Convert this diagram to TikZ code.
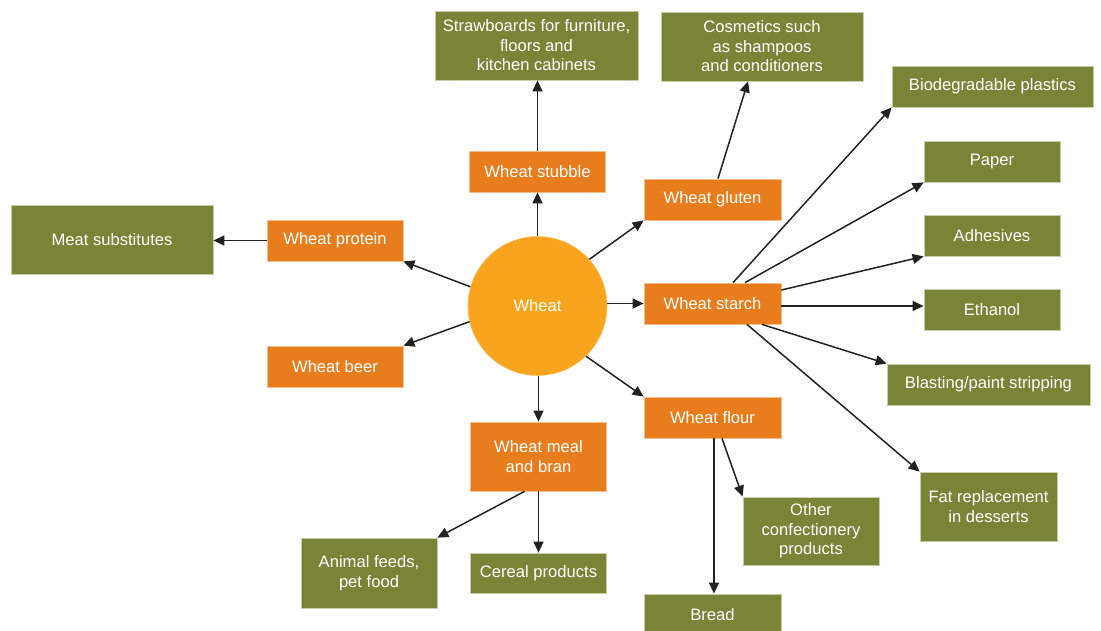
\documentclass[tikz,border=0pt]{standalone}
\usepackage{fontspec}
\setmainfont{Liberation Sans}
\usetikzlibrary{arrows.meta,calc}
\definecolor{gfill}{HTML}{7A8436}
\definecolor{gedge}{HTML}{C9CFA6}
\definecolor{ofill}{HTML}{E87D1E}
\definecolor{oedge}{HTML}{F4BE8C}
\definecolor{cfill}{HTML}{F8A51D}
\definecolor{lcol}{HTML}{222222}
\begin{document}
\begin{tikzpicture}[x=1pt,y=-1pt,
  base/.style={rectangle,inner sep=0pt,align=center,text=white,line width=0.8pt,
    font=\fontsize{16.6}{19.5}\selectfont},
  gbox/.style={base,fill=gfill,draw=gedge},
  obox/.style={base,fill=ofill,draw=oedge},
  arr/.style={draw=lcol,line width=1.5pt,-{Triangle[length=11pt,width=10pt]}}]
\useasboundingbox (0,0) rectangle (1101,630);
% centre
\node[circle,fill=cfill,draw=cfill!70!white,line width=0.6pt,minimum size=139pt,inner sep=0pt,
  text=white,font=\fontsize{16.6}{19.5}\selectfont] (wheat) at (537.5,306) {Wheat};
% orange boxes
\node[obox,minimum width=136,minimum height=41] (stubble) at (537.5,171.5) {Wheat stubble};
\node[obox,minimum width=137,minimum height=41] (gluten) at (712.5,199.5) {Wheat gluten};
\node[obox,minimum width=137,minimum height=41] (starch) at (712.5,303.5) {Wheat starch};
\node[obox,minimum width=137,minimum height=41] (flour) at (712.5,417.5) {Wheat flour};
\node[obox,minimum width=136,minimum height=41] (protein) at (335,240.5) {Wheat protein};
\node[obox,minimum width=136,minimum height=41] (beer) at (335,366.5) {Wheat beer};
\node[obox,minimum width=136,minimum height=69] (meal) at (538.5,456.5) {Wheat meal\\and bran};
% green boxes
\node[gbox,minimum width=202,minimum height=69] (meat) at (112,240) {Meat substitutes};
\node[gbox,minimum width=203,minimum height=69] (straw) at (536.5,45.5) {Strawboards for furniture,\\floors and\\kitchen cabinets};
\node[gbox,minimum width=202,minimum height=69] (cosm) at (762,46.5) {Cosmetics such\\as shampoos\\and conditioners};
\node[gbox,minimum width=201,minimum height=41] (bio) at (992.5,86.5) {Biodegradable plastics};
\node[gbox,minimum width=136,minimum height=41] (paper) at (992,161.5) {Paper};
\node[gbox,minimum width=136,minimum height=41] (adh) at (992,235.5) {Adhesives};
\node[gbox,minimum width=136,minimum height=41] (eth) at (992,310) {Ethanol};
\node[gbox,minimum width=203,minimum height=41] (blast) at (988.5,384.5) {Blasting/paint stripping};
\node[gbox,minimum width=137,minimum height=69] (fat) at (988.5,506.5) {Fat replacement\\in desserts};
\node[gbox,minimum width=136,minimum height=68] (other) at (811,531) {Other\\confectionery\\products};
\node[gbox,minimum width=137,minimum height=41] (bread) at (712.5,614.5) {Bread};
\node[gbox,minimum width=136,minimum height=70] (animal) at (369,573) {Animal feeds,\\pet food};
\node[gbox,minimum width=136,minimum height=40] (cereal) at (538.5,573) {Cereal products};
% connectors from wheat
\draw[arr] (wheat.north) -- (stubble.south);
\draw[arr] (stubble.north) -- (stubble.north |- straw.south);
\draw[arr] (wheat.42) -- (gluten.south west);
\draw[arr] ([xshift=5.5pt]gluten.north) -- ([xshift=-14pt]cosm.south);
\draw[arr] (wheat.east |- starch.west) -- (starch.west);
\draw[arr] (wheat.-46) -- (flour.north west);
\draw[arr] (wheat.south -| meal.north) -- (meal.north);
\draw[arr] (wheat.164) -- (protein.south east);
\draw[arr] (wheat.193) -- (beer.north east);
\draw[arr] (protein.west) -- (meat.east |- protein.west);
% starch
\draw[arr] ([xshift=20.5pt]starch.north) -- (bio.south west);
\draw[arr] ([xshift=32.5pt]starch.north) -- (paper.south west);
\draw[arr] ([yshift=13.5pt]starch.east) -- (adh.south west);
\draw[arr] ([yshift=-2.5pt]starch.east) -- ([yshift=-2.5pt]starch.east -| eth.west);
\draw[arr] ([xshift=49.5pt]starch.south) -- (blast.north west);
\draw[arr] ([xshift=34.5pt]starch.south) -- (fat.north west);
% flour
\draw[arr] ([xshift=1.5pt]flour.south) -- ([xshift=1.5pt]bread.north);
\draw[arr] ([xshift=9.5pt]flour.south) -- (other.north west);
% meal
\draw[arr] ([xshift=-14pt]meal.south) -- (animal.north east);
\draw[arr] (meal.south) -- (cereal.north);
\end{tikzpicture}
\end{document}
